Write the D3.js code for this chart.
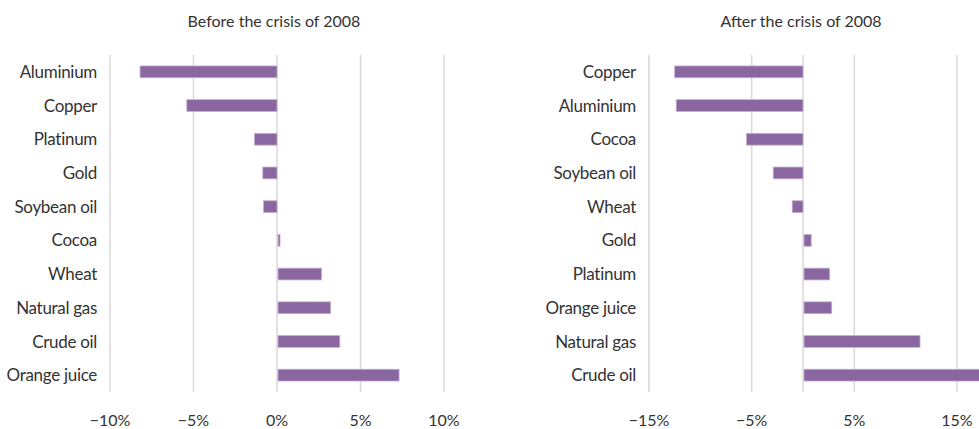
<!DOCTYPE html>
<html>
<head>
<meta charset="utf-8">
<script src="https://cdn.jsdelivr.net/npm/d3@7"></script>
<style>
  body { margin: 0; background: #fff; }
  text { font-family: Lato, "Noto Sans", sans-serif; fill: #333; }
</style>
</head>
<body>
<div id="chart"></div>
<script>
var width = 979;
var height = 429;

// before the crisis
var beforeNames = ['Aluminium', 'Copper', 'Platinum', 'Gold', 'Soybean oil', 'Cocoa', 'Wheat', 'Natural gas', 'Crude oil', 'Orange juice'];
var beforeValues = [-8.2, -5.4, -1.35, -0.85, -0.8, 0.12, 2.6, 3.15, 3.7, 7.25];
var beforeTicks = [-10, -5, 0, 5, 10];

// after the crisis
var afterNames = ['Copper', 'Aluminium', 'Cocoa', 'Soybean oil', 'Wheat', 'Gold', 'Platinum', 'Orange juice', 'Natural gas', 'Crude oil'];
var afterValues = [-12.5, -12.35, -5.5, -2.9, -1.05, 0.7, 2.5, 2.7, 11.3, 18.5];
var afterTicks = [-15, -5, 5, 15];

var barColor = '#8a67a0';

var svg = d3.select('#chart').append('svg')
  .attr('width', width)
  .attr('height', height);

var fmt = function(d) {
  return (d < 0 ? '\u2212' + Math.abs(d) : d) + '%';
};

var drawPanel = function(opts) {
  var x = d3.scaleLinear().domain(opts.domain).range(opts.xRange);
  var y = d3.scaleBand()
    .domain(opts.names)
    .range([55, 392])
    .paddingInner(0.65)
    .paddingOuter(0.325);

  var g = svg.append('g');

  // gridlines (ticks plus the zero line)
  var gridVals = opts.ticks.slice();
  if (!gridVals.includes(0)) gridVals.push(0);
  g.selectAll('.grid')
    .data(gridVals)
    .enter()
    .append('line')
    .attr('x1', function(d) { return x(d); })
    .attr('x2', function(d) { return x(d); })
    .attr('y1', 55)
    .attr('y2', 392)
    .style('stroke', '#d9d9d9')
    .style('stroke-width', 1.5);

  var data = opts.names.map(function(n, i) { return { name: n, value: opts.values[i] }; });

  g.selectAll('.bar')
    .data(data)
    .enter()
    .append('rect')
    .attr('x', function(d) { return d.value < 0 ? x(d.value) : x(0) + 1; })
    .attr('y', function(d) { return y(d.name); })
    .attr('width', function(d) { return Math.abs(x(d.value) - x(0)); })
    .attr('height', y.bandwidth())
    .style('fill', barColor)
    .style('stroke', '#c3b0cf')
    .style('stroke-width', 0.8);

  // category labels
  g.selectAll('.cat')
    .data(opts.names)
    .enter()
    .append('text')
    .attr('x', opts.labelX)
    .attr('y', function(d) { return y(d) + y.bandwidth() / 2; })
    .attr('dy', '0.36em')
    .attr('text-anchor', 'end')
    .style('font-size', '17px')
    .style('letter-spacing', '-0.3px')
    .text(function(d) { return d; });

  // tick labels
  g.selectAll('.tick')
    .data(opts.ticks)
    .enter()
    .append('text')
    .attr('x', function(d) { return x(d); })
    .attr('y', 426)
    .attr('text-anchor', 'middle')
    .style('font-size', '16px')
    .text(fmt);

  g.append('text')
    .attr('x', opts.titleX)
    .attr('y', 27)
    .attr('text-anchor', 'middle')
    .style('font-size', '16px')
    .text(opts.title);
};

drawPanel({
  names: beforeNames, values: beforeValues, ticks: beforeTicks,
  domain: [-10, 10], xRange: [110, 444], labelX: 97,
  title: 'Before the crisis of 2008', titleX: 274
});

drawPanel({
  names: afterNames, values: afterValues, ticks: afterTicks,
  domain: [-15, 15], xRange: [649, 957], labelX: 636,
  title: 'After the crisis of 2008', titleX: 801
});
</script>
</body>
</html>
